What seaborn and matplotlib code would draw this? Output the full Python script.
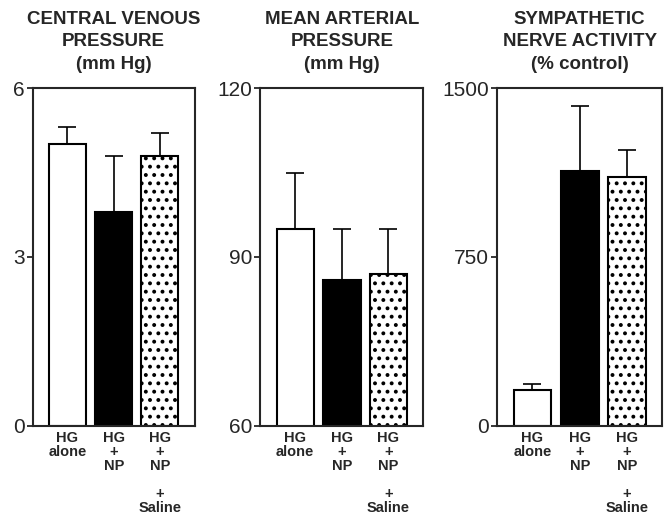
import pandas as pd
import numpy as np
import matplotlib.pyplot as plt
import seaborn as sns

# Data (mean and upper error bar)
groups = ["HG alone", "HG + NP", "HG + NP + Saline"]
tick_labels = ["HG\nalone", "HG\n+\nNP", "HG\n+\nNP\n\n+\nSaline"]

cvp_mean = [5.0, 3.8, 4.8]
cvp_err = [0.3, 1.0, 0.4]
map_mean = [95, 86, 87]
map_err = [10, 9, 8]
sna_mean = [160, 1130, 1105]
sna_err = [25, 290, 120]

titles = ["CENTRAL VENOUS\nPRESSURE\n(mm Hg)",
          "MEAN ARTERIAL\nPRESSURE\n(mm Hg)",
          "SYMPATHETIC\nNERVE ACTIVITY\n(% control)"]
ylims = [(0, 6), (60, 120), (0, 1500)]
yticks = [[0, 3, 6], [60, 90, 120], [0, 750, 1500]]

sns.set_style("ticks")
plt.rcParams['font.family'] = ['Liberation Sans', 'DejaVu Sans']
plt.rcParams['hatch.linewidth'] = 1.6

fig, axes = plt.subplots(1, 3, figsize=(6.69, 5.15), dpi=100)

# panel boxes in figure fraction
lefts = [0.049, 0.389, 0.743]
widths = [0.242, 0.244, 0.247]

panels = [(cvp_mean, cvp_err), (map_mean, map_err), (sna_mean, sna_err)]

for i, ax in enumerate(axes):
    mean, err = panels[i]
    df = pd.DataFrame({"group": groups, "value": mean})
    sns.barplot(data=df, x="group", y="value", hue="group", order=groups,
                hue_order=groups, palette=["white", "black", "white"],
                edgecolor="black", linewidth=1.5, width=0.8,
                errorbar=None, legend=False, ax=ax)
    ax.patches[2].set_hatch("..")

    # upper error bars only
    ax.errorbar(np.arange(len(groups)), mean, yerr=[np.zeros(len(err)), err],
                fmt="none", ecolor="black", elinewidth=1.2, capsize=6.5,
                capthick=1.2, zorder=1)

    ax.set_position([lefts[i], 0.173, widths[i], 0.656])
    ax.set_xlim(-0.75, 2.75)
    ax.set_ylim(ylims[i])
    ax.set_yticks(yticks[i])
    ax.set_xticks(np.arange(len(groups)))
    ax.set_xticklabels(tick_labels, fontsize=10.5, fontweight="bold", linespacing=1.0)
    ax.tick_params(axis="x", length=0, pad=4)
    ax.tick_params(axis="y", length=4, width=1.3, labelsize=15, pad=2)
    ax.set_xlabel("")
    ax.set_ylabel("")
    for s in ax.spines.values():
        s.set_visible(True)
        s.set_linewidth(1.5)
    ax.set_title(titles[i], fontsize=13.5, fontweight="bold", pad=14, linespacing=1.4)

plt.savefig("out.png", dpi=100)
